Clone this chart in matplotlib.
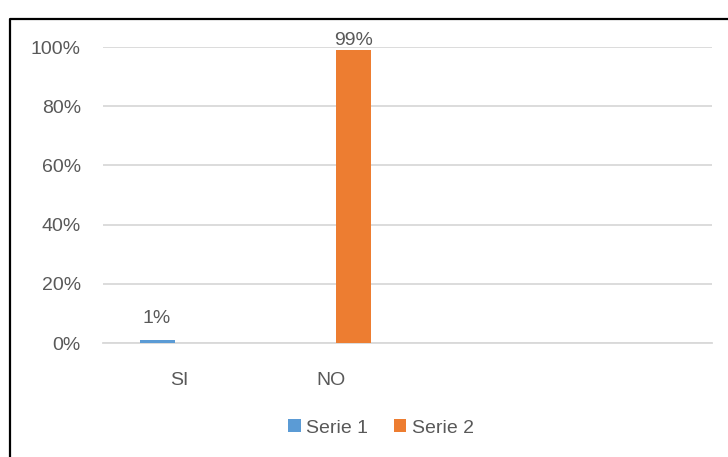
import matplotlib.pyplot as plt
from matplotlib.lines import Line2D
import numpy as np

plt.rcParams['font.family'] = ['Liberation Sans', 'DejaVu Sans']

categories = ["SI", "NO", "", ""]
serie1 = [0.01, 0, 0, 0]
serie2 = [0, 0.99, 0, 0]
labels1 = ["1%", "", "", ""]
labels2 = ["", "99%", "", ""]

blue = "#5B9BD5"
orange = "#ED7D31"
text_c = "#595959"
grid_c = "#D9D9D9"
fs = 14

fig = plt.figure(figsize=(7.28, 4.57), dpi=100)
ax = fig.add_axes([103 / 728, 1 - 343 / 457, 609 / 728, 296 / 457])

x = np.arange(len(categories))
w = 0.23
off = 0.145
b1 = ax.bar(x - off, serie1, w, color=blue, label="Serie 1")
b2 = ax.bar(x + off, serie2, w, color=orange, label="Serie 2")

# data labels, only where the chart shows them
for rect, lab in zip(b1, labels1):
    if lab:
        ax.text(rect.get_x() + rect.get_width() / 2, rect.get_height() + 0.045, lab,
                ha="center", va="bottom", fontsize=fs, color=text_c)
for rect, lab in zip(b2, labels2):
    if lab:
        ax.text(rect.get_x() + rect.get_width() / 2, rect.get_height() + 0.003, lab,
                ha="center", va="bottom", fontsize=fs, color=text_c, clip_on=False)

ax.set_xlim(-0.5, len(categories) - 0.5)
ax.set_ylim(0, 1.0)
ax.set_yticks(np.arange(0, 1.01, 0.2))
ax.set_yticklabels([f"{int(round(v * 100))}%" for v in np.arange(0, 1.01, 0.2)])
ax.set_xticks(x)
ax.set_xticklabels(categories)
ax.tick_params(axis="both", length=0, labelsize=fs, labelcolor=text_c)
ax.tick_params(axis="y", pad=16)
ax.tick_params(axis="x", pad=21)
ax.yaxis.grid(True, color=grid_c, linewidth=1.3)
ax.set_axisbelow(True)
for s in ["top", "right", "left"]:
    ax.spines[s].set_visible(False)
ax.spines["bottom"].set_color(grid_c)
ax.spines["bottom"].set_linewidth(1.3)
ax.spines["bottom"].set_zorder(0.5)

leg = fig.legend(handles=[b1, b2], loc="center", bbox_to_anchor=(381 / 728, 1 - 428 / 457),
                 ncol=2, frameon=False, fontsize=fs, handlelength=0.65, handleheight=0.65,
                 handletextpad=0.3, columnspacing=1.3)
for t in leg.get_texts():
    t.set_color(text_c)

# outer frame (cut off at right and bottom in the original)
fig.add_artist(Line2D([9.5 / 728, 9.5 / 728, 1.0], [0.0, 1 - 18.5 / 457, 1 - 18.5 / 457],
                      color="black", linewidth=1.6, transform=fig.transFigure))

fig.savefig("out.png", dpi=100)
